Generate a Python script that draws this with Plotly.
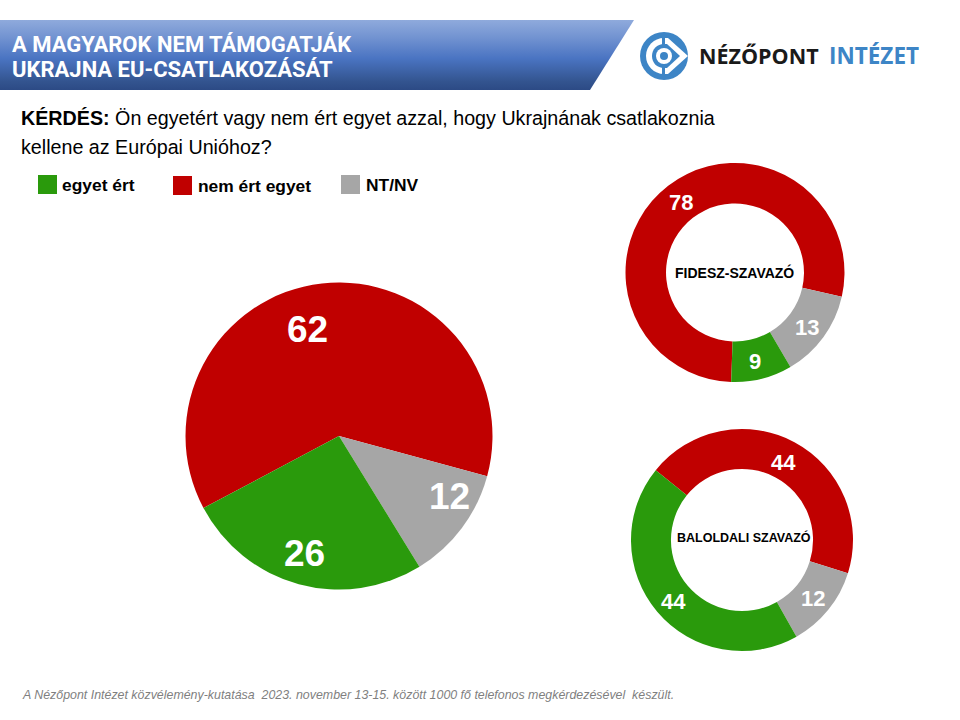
import plotly.graph_objects as go

# data
categories = ["nem ért egyet", "NT/NV", "egyet ért"]
all_values = [62, 12, 26]
fidesz_values = [78, 13, 9]
left_values = [44, 12, 44]
colors = ["#C00000", "#A6A6A6", "#2A9A0C"]

title_lines = ["A MAGYAROK NEM TÁMOGATJÁK", "UKRAJNA EU-CSATLAKOZÁSÁT"]
question_bold = "KÉRDÉS:"
question_1 = "Ön egyetért vagy nem ért egyet azzal, hogy Ukrajnának csatlakoznia"
question_2 = "kellene az Európai Unióhoz?"
footer = "A Nézőpont Intézet közvélemény-kutatása  2023. november 13-15. között 1000 fő telefonos megkérdezésével  készült."

W, H = 960, 720


def pie_domain(cx, cy, r):
    return dict(x=[(cx - r) / W, (cx + r) / W], y=[1 - (cy + r) / H, 1 - (cy - r) / H])


def add_pie(values, cx, cy, r, rotation, hole=0):
    fig.add_trace(go.Pie(
        labels=categories, values=values, domain=pie_domain(cx, cy, r),
        rotation=rotation, direction="clockwise", sort=False, hole=hole,
        marker=dict(colors=colors, line=dict(width=0)),
        textinfo="none", showlegend=False,
    ))


def label(x, y, text, size=14, color="black", bold=False, italic=False, family="Liberation Sans", anchor="center"):
    if bold:
        text = f"<b>{text}</b>"
    if italic:
        text = f"<i>{text}</i>"
    fig.add_annotation(x=x, y=y, xref="x", yref="y", text=text, showarrow=False,
                       xanchor=anchor, yanchor="middle",
                       font=dict(size=size, color=color, family=family))


fig = go.Figure()

# banner with the vertical gradient
fig.add_trace(go.Scatter(
    x=[0, 634, 590, 0, 0], y=[20, 20, 90, 90, 20], mode="lines", fill="toself",
    line=dict(width=0), hoverinfo="skip", showlegend=False,
    fillgradient=dict(type="vertical", colorscale=[
        [0, "#2C4A85"], [0.12, "#33548F"], [0.45, "#4A74C2"], [0.75, "#7293D1"], [1, "#8FAADC"]]),
))

add_pie(all_values, 339, 436, 153.5, 242)
add_pie(fidesz_values, 735, 272.5, 109.5, 182, hole=0.63)
add_pie(left_values, 742, 540, 111, 309, hole=0.64)

# banner text
label(10, 44, title_lines[0], size=22, color="white", bold=True, family="Roboto", anchor="left")
label(10, 69, title_lines[1], size=22, color="white", bold=True, family="Roboto", anchor="left")

# logo
blue = "#3D85C6"
fig.add_shape(type="circle", x0=640, x1=688, y0=32, y1=80, fillcolor=blue, line_width=0)
fig.add_shape(type="path", path="M 664 38 C 654 38 646 46 646 56 C 646 66 654 74 664 74 L 668 74 L 688 56 L 668 38 Z",
              fillcolor="white", line_width=0)
fig.add_shape(type="path", path="M 664 44 C 657 44 652 49 652 56 C 652 63 657 68 664 68 L 667 68 L 680 56 L 667 44 Z",
              fillcolor=blue, line_width=0)
fig.add_shape(type="rect", x0=662, x1=665, y0=37, y1=45, fillcolor=blue, line_width=0)
fig.add_shape(type="rect", x0=662, x1=665, y0=67, y1=75, fillcolor=blue, line_width=0)
fig.add_shape(type="circle", x0=656, x1=672, y0=48, y1=64, fillcolor="white", line_width=0)
fig.add_shape(type="circle", x0=660, x1=668, y0=52, y1=60, fillcolor=blue, line_width=0)
label(697, 55, "NÉZŐPONT", size=21.5, color="#1A1A1A", bold=True, family="Open Sans", anchor="left")
label(827, 55, "INTÉZET", size=22.5, color=blue, bold=True, family="Open Sans", anchor="left")

# question
label(19, 118, f"<b>{question_bold}</b> {question_1}", size=19.7, anchor="left")
label(19, 147, question_2, size=19.7, anchor="left")

# legend
legend_boxes = [(38, 175), (173, 176), (341, 175)]
legend_colors = [colors[2], colors[0], colors[1]]
legend_texts = [categories[2], categories[0], categories[1]]
legend_text_x = [60, 196, 364]
for (bx, by), col, txt, tx in zip(legend_boxes, legend_colors, legend_texts, legend_text_x):
    fig.add_shape(type="rect", x0=bx, x1=bx + 19, y0=by, y1=by + 19, fillcolor=col, line_width=0)
    label(tx, by + 10, txt, size=17.4, bold=True, anchor="left")

# values on the pies
label(307, 329, all_values[0], size=37, color="white", bold=True)
label(449, 496, all_values[1], size=37, color="white", bold=True)
label(304, 553, all_values[2], size=37, color="white", bold=True)

label(681, 202, fidesz_values[0], size=22, color="white", bold=True)
label(807, 327, fidesz_values[1], size=22, color="white", bold=True)
label(755, 361, fidesz_values[2], size=22, color="white", bold=True)
label(734, 272, "FIDESZ-SZAVAZÓ", size=14, bold=True)

label(783, 462, left_values[0], size=22, color="white", bold=True)
label(813, 598, left_values[1], size=22, color="white", bold=True)
label(673, 601, left_values[2], size=22, color="white", bold=True)
label(744, 537, "BALOLDALI SZAVAZÓ", size=12.5, bold=True)

label(20, 695, footer, size=12.4, color="#7F7F7F", italic=True, anchor="left")

fig.update_layout(
    width=W, height=H, margin=dict(l=0, r=0, t=0, b=0),
    paper_bgcolor="white", plot_bgcolor="rgba(0,0,0,0)",
    xaxis=dict(range=[0, W], visible=False, domain=[0, 1], fixedrange=True),
    yaxis=dict(range=[H, 0], visible=False, domain=[0, 1], fixedrange=True),
)

# the page's default body margin would shift the whole figure by 8px
fig.write_html("out.html", config=dict(displayModeBar=False),
               post_script="document.body.style.margin = '0';")
